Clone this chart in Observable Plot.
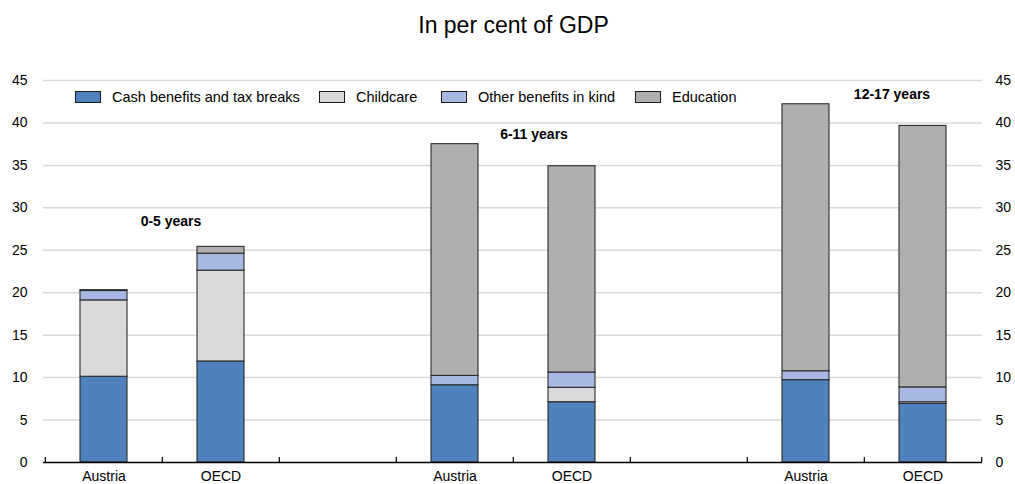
<!DOCTYPE html>
<html>
<head>
<meta charset="utf-8">
<script src="https://cdn.jsdelivr.net/npm/d3@7"></script>
<script src="https://cdn.jsdelivr.net/npm/@observablehq/plot@0.6"></script>
<style>
  html, body { margin: 0; padding: 0; background: #fff; }
  body { width: 1015px; height: 484px; position: relative; overflow: hidden;
         font-family: "Liberation Sans", Arial, sans-serif; color: #000; }
  #title { height: 60px; box-sizing: border-box; padding-top: 12px; font-size: 23px; line-height: 27px;
           text-align: center; padding-left: 12px; }
  #legend { position: absolute; left: 0; top: 0; width: 1015px; height: 120px; pointer-events: none; }
  .item { position: absolute; top: 90px; display: flex; align-items: center; font-size: 14.5px; height: 14px; }
  .sw { width: 24px; height: 10px; border: 1px solid #1a1a1a; margin-right: 11px; }
</style>
</head>
<body>
<div id="title">In per cent of GDP</div>
<div id="chart"></div>
<div id="legend"></div>
<script>
// ---- data ----
const groups = ["0-5 years", "6-11 years", "12-17 years"];
const countries = ["Austria", "OECD"];
const seriesNames = ["Cash benefits and tax breaks", "Childcare", "Other benefits in kind", "Education"];
// values in order: 0-5 Austria, 0-5 OECD, 6-11 Austria, 6-11 OECD, 12-17 Austria, 12-17 OECD
const cash      = [10.1, 11.9, 9.1, 7.1, 9.7, 6.9];
const childcare = [9.0, 10.7, 0.0, 1.7, 0.0, 0.2];
const otherKind = [1.1, 2.0, 1.1, 1.8, 1.05, 1.75];
const education = [0.1, 0.8, 27.3, 24.3, 31.45, 30.8];
const yTicks = [0, 5, 10, 15, 20, 25, 30, 35, 40, 45];

const seriesValues = [cash, childcare, otherKind, education];
const colors = ["#4f81bd", "#d9d9d9", "#a7b9e3", "#afafaf"];

// slots: two bars per group, an empty slot between groups
const slots = [];
groups.forEach((g, gi) => {
  countries.forEach(c => slots.push(g + "|" + c));
  if (gi < groups.length - 1) slots.push(g + "|gap");
});
const rows = [];
seriesNames.forEach((s, si) => {
  groups.forEach((g, gi) => {
    countries.forEach((c, ci) => {
      const v = seriesValues[si][gi * 2 + ci];
      if (v > 0) rows.push({slot: g + "|" + c, series: s, value: v});
    });
  });
});

const W = 1015, H = 424, ml = 43, mr = 33, mt = 20, mb = 22;
const step = (W - ml - mr) / slots.length;
const font = '"Liberation Sans", Arial, sans-serif';

const groupLabel = [
  {g: groups[0], y: 28.4, dx: -50},
  {g: groups[1], y: 38.6, dx: -38},
  {g: groups[2], y: 43.4, dx: -31}
];

const chart = Plot.plot({
  width: W, height: H,
  marginTop: mt, marginBottom: mb, marginLeft: ml, marginRight: mr,
  style: {fontFamily: font, fontSize: "14px", color: "#000", background: "#fff", overflow: "visible"},
  x: {domain: slots, paddingInner: 0.6, paddingOuter: 0.3, label: null},
  y: {domain: [0, 45], label: null},
  color: {domain: seriesNames, range: colors},
  marks: [
    Plot.gridY(yTicks.filter(t => t > 0), {stroke: "#d9d9d9", strokeOpacity: 1, strokeWidth: 1.5}),
    Plot.barY(rows, {x: "slot", y: "value", fill: "series", stroke: "#2b2b2b", strokeWidth: 1.1}),
    Plot.ruleY([0], {stroke: "#000", strokeWidth: 1.5}),
    Plot.ruleX(slots, {x: d => d, y1: 0, y2: 0.6, dx: -step / 2, stroke: "#000", strokeWidth: 1.2}),
    Plot.ruleX([slots[slots.length - 1]], {x: d => d, y1: 0, y2: 0.6, dx: step / 2, stroke: "#000", strokeWidth: 1.2}),
    Plot.axisX({tickSize: 0, tickPadding: 9, fontSize: 14,
      tickFormat: s => { const c = s.split("|")[1]; return c === "gap" ? "" : c; }}),
    Plot.axisY({anchor: "left", ticks: yTicks, tickSize: 0, tickPadding: 16, fontSize: 14, label: null}),
    Plot.axisY({anchor: "right", ticks: yTicks, tickSize: 0, tickPadding: 13, fontSize: 14, label: null}),
    ...groupLabel.map(L => Plot.text([L], {x: d => d.g + "|OECD", y: "y", text: "g", dx: L.dx,
      fontWeight: "bold", fontSize: 14, fill: "#000"}))
  ]
});
document.getElementById("chart").appendChild(chart);

// legend
const legendLeft = [75, 319, 441, 635];
const legend = document.getElementById("legend");
seriesNames.forEach((s, i) => {
  const it = document.createElement("div");
  it.className = "item";
  it.style.left = legendLeft[i] + "px";
  const sw = document.createElement("div");
  sw.className = "sw";
  sw.style.background = colors[i];
  const tx = document.createElement("span");
  tx.textContent = s;
  it.appendChild(sw); it.appendChild(tx);
  legend.appendChild(it);
});
</script>
</body>
</html>
